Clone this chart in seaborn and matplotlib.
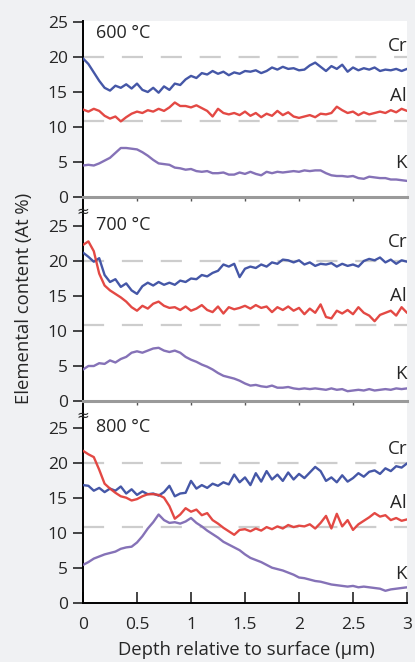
import numpy as np
import pandas as pd
import matplotlib
matplotlib.use("Agg")
import matplotlib.pyplot as plt
import seaborn as sns

# depth grid (µm), one reading every 0.05 µm
depth = [round(i * 0.05, 2) for i in range(61)]

cr_600 = [19.8, 19.0, 17.8, 16.6, 15.6, 15.2, 15.9, 15.6, 16.1, 15.5, 16.2, 15.3, 15.0, 15.6, 14.9, 15.8,
          15.3, 16.2, 16.0, 16.8, 17.3, 17.0, 17.7, 17.5, 18.0, 17.6, 17.9, 17.4, 17.8, 17.6, 18.0, 17.9,
          18.1, 17.7, 18.0, 18.5, 18.2, 18.6, 18.3, 18.4, 18.1, 18.2, 18.8, 19.2, 18.6, 18.0, 18.7, 18.3,
          18.9, 17.9, 18.5, 18.1, 18.4, 18.2, 18.5, 18.0, 18.2, 18.1, 18.3, 18.0, 18.3]
al_600 = [12.5, 12.2, 12.6, 12.3, 11.6, 11.2, 11.5, 10.8, 11.4, 11.9, 12.2, 12.0, 12.4, 12.2, 12.6, 12.3,
          12.8, 13.5, 13.0, 13.0, 12.8, 13.1, 12.7, 12.3, 11.5, 12.6, 12.0, 11.8, 12.0, 11.7, 12.2, 11.6,
          12.0, 11.4, 11.9, 11.6, 12.3, 11.7, 12.1, 11.5, 11.3, 11.5, 11.7, 11.4, 11.9, 11.8, 12.0, 12.9,
          12.4, 12.0, 12.2, 11.7, 12.1, 11.8, 12.0, 12.2, 12.0, 12.4, 12.1, 12.6, 12.3]
k_600 = [4.5, 4.6, 4.5, 4.8, 5.2, 5.6, 6.3, 7.0, 7.0, 6.9, 6.8, 6.4, 5.9, 5.3, 4.8, 4.7,
         4.6, 4.2, 4.1, 3.9, 4.0, 3.7, 3.6, 3.7, 3.4, 3.4, 3.5, 3.2, 3.2, 3.5, 3.3, 3.6,
         3.3, 3.1, 3.6, 3.4, 3.6, 3.5, 3.6, 3.7, 3.6, 3.8, 3.7, 3.8, 3.8, 3.4, 3.1, 3.0,
         3.0, 2.9, 3.0, 2.7, 2.6, 2.9, 2.8, 2.7, 2.7, 2.5, 2.5, 2.4, 2.3]

cr_700 = [21.2, 20.6, 19.9, 20.4, 18.0, 17.0, 17.4, 16.3, 16.8, 15.8, 15.3, 16.4, 16.9, 16.5, 17.0, 16.6,
          16.9, 16.6, 17.2, 17.0, 17.5, 17.4, 18.0, 17.8, 18.3, 18.6, 19.5, 19.2, 19.6, 17.7, 18.9, 19.2,
          19.0, 19.5, 19.2, 19.8, 19.6, 20.2, 20.1, 19.8, 20.1, 19.5, 19.8, 19.3, 19.6, 19.5, 19.7, 19.2,
          19.6, 19.3, 19.5, 19.2, 20.0, 20.3, 20.1, 20.5, 19.8, 20.2, 19.6, 20.1, 19.9]
al_700 = [22.3, 22.8, 21.4, 18.2, 16.5, 15.8, 15.3, 14.8, 14.2, 13.4, 12.9, 13.6, 13.2, 13.9, 14.2, 13.6,
          13.3, 13.4, 13.0, 13.5, 12.9, 13.2, 13.7, 13.0, 12.7, 13.5, 12.5, 13.4, 13.1, 13.3, 13.6, 13.2,
          13.7, 13.3, 13.5, 12.7, 13.4, 13.0, 13.5, 12.9, 13.3, 12.4, 13.2, 12.6, 13.8, 12.0, 11.8, 12.9,
          12.5, 13.0, 12.4, 13.4, 12.6, 12.2, 11.4, 12.3, 12.6, 12.9, 12.2, 13.4, 12.6]
k_700 = [4.5, 5.0, 5.0, 5.4, 5.3, 5.8, 5.5, 6.0, 6.3, 6.9, 7.1, 6.9, 7.2, 7.5, 7.6, 7.2,
         7.0, 7.2, 6.9, 6.3, 5.9, 5.6, 5.2, 4.9, 4.5, 4.0, 3.6, 3.4, 3.2, 2.9, 2.5, 2.2,
         2.3, 2.1, 2.0, 2.2, 1.9, 1.9, 2.0, 1.8, 1.7, 1.8, 1.7, 1.8, 1.7, 1.6, 1.8, 1.6,
         1.7, 1.4, 1.5, 1.6, 1.5, 1.7, 1.5, 1.6, 1.7, 1.6, 1.8, 1.7, 1.8]

cr_800 = [16.8, 16.7, 16.0, 16.4, 15.8, 16.3, 16.0, 16.6, 15.6, 16.2, 15.4, 15.9, 15.5, 15.6, 15.3, 15.8,
          16.7, 15.2, 15.6, 15.7, 17.4, 16.3, 16.8, 16.4, 17.0, 16.7, 17.2, 16.9, 18.3, 17.2, 17.9, 16.8,
          18.5, 17.3, 18.8, 17.6, 18.3, 17.4, 18.6, 17.6, 18.4, 17.8, 18.6, 19.4, 18.8, 17.4, 17.9, 17.2,
          18.2, 17.3, 17.8, 18.5, 18.0, 18.7, 18.9, 18.4, 19.2, 18.8, 19.5, 19.3, 19.9]
al_800 = [21.7, 21.2, 20.8, 19.0, 17.0, 16.3, 15.7, 15.2, 15.0, 14.6, 14.8, 15.2, 15.5, 15.5, 15.4, 15.0,
          13.8, 12.0, 12.6, 13.5, 13.0, 13.3, 12.5, 12.8, 11.8, 11.3, 10.7, 10.2, 9.7, 10.4, 10.5, 10.2,
          10.6, 10.3, 10.8, 10.5, 10.9, 10.6, 11.1, 10.8, 11.0, 10.9, 11.2, 10.6, 11.4, 12.4, 10.6, 12.7,
          10.9, 11.8, 10.4, 11.2, 11.7, 12.2, 12.8, 12.3, 12.5, 11.8, 12.1, 11.7, 11.9]
k_800 = [5.4, 5.8, 6.3, 6.6, 6.9, 7.1, 7.3, 7.7, 7.9, 8.0, 8.6, 9.5, 10.6, 11.5, 12.6, 11.8,
         11.4, 11.5, 11.3, 11.6, 12.1, 11.4, 10.9, 10.3, 9.8, 9.3, 8.7, 8.3, 7.9, 7.5, 6.9, 6.4,
         6.1, 5.8, 5.4, 5.0, 4.8, 4.6, 4.3, 4.0, 3.6, 3.5, 3.3, 3.1, 3.0, 2.8, 2.6, 2.5,
         2.4, 2.3, 2.4, 2.2, 2.3, 2.2, 2.1, 2.0, 1.7, 1.9, 2.0, 2.1, 2.2]

temps = ["600 °C", "700 °C", "800 °C"]
elements = ["Cr", "Al", "K"]
series = {
    "600 °C": [cr_600, al_600, k_600],
    "700 °C": [cr_700, al_700, k_700],
    "800 °C": [cr_800, al_800, k_800],
}
ref_levels = [20, 10.8]
x_ticks = [0, 0.5, 1, 1.5, 2, 2.5, 3]
x_ticklabels = ["0", "0.5", "1", "1.5", "2", "2.5", "3"]
y_ticks = [0, 5, 10, 15, 20, 25]

palette = {"Cr": "#3b4ea2", "Al": "#e23f3a", "K": "#7f6ab3"}
label_y = {"600 °C": [21.6, 14.4, 4.9], "700 °C": [22.7, 15.0, 3.8], "800 °C": [22.0, 14.2, 4.1]}

sns.set_style("ticks")
plt.rcParams["font.family"] = ["Open Sans", "DejaVu Sans"]

fig = plt.figure(figsize=(4.15, 6.62), dpi=100, facecolor="#f0f1f3")
W, H = 415, 662
# (top px, bottom px, px of y=0) for each panel
panels = [(21, 212, 197), (212, 414, 401), (414, 602.7, 602.7)]
scale = 7.0  # px per at%

for i, temp in enumerate(temps):
    top, bot, zero = panels[i]
    ax = fig.add_axes([83 / W, 1 - bot / H, 324 / W, (bot - top) / H])
    ax.set_facecolor("white")

    df = pd.concat([pd.DataFrame({"depth": depth, "content": vals, "element": el})
                    for el, vals in zip(elements, series[temp])])

    for lvl in ref_levels:
        ax.axhline(lvl, color="#cdcdcd", lw=1.6, dashes=(9.5, 8), zorder=1)

    sns.lineplot(data=df, x="depth", y="content", hue="element", palette=palette,
                 legend=False, ax=ax, lw=1.7, alpha=0.95, zorder=3)

    ax.set_xlim(0, 3)
    ax.set_ylim((zero - bot) / scale, (zero - top) / scale)
    ax.set_yticks(y_ticks)
    ax.set_xlabel("")
    ax.set_ylabel("")
    ax.tick_params(axis="y", direction="out", length=7, width=1.2, labelsize=12.5, pad=4)
    for s in ["top", "right"]:
        ax.spines[s].set_visible(False)
    ax.spines["left"].set_linewidth(1.4)
    ax.spines["left"].set_color("black")

    if i < 2:
        ax.spines["bottom"].set_position(("data", 0))
        ax.spines["bottom"].set_color("#9a9a9a")
        ax.spines["bottom"].set_linewidth(2.2)
        ax.set_xticks(x_ticks[1:-1])
        ax.set_xticklabels([])
        ax.tick_params(axis="x", direction="out", length=3, width=1, color="#555555")
    else:
        ax.spines["bottom"].set_linewidth(1.4)
        ax.spines["bottom"].set_color("black")
        ax.set_xticks(x_ticks)
        ax.set_xticklabels(x_ticklabels)
        ax.tick_params(axis="x", direction="in", length=8, width=1.2, labelsize=12.5, pad=10)

    ty = 23.4 if i == 0 else 25.1
    ax.text(0.12, ty, temp, fontsize=13, ha="left", va="center")
    for el, ly in zip(elements, label_y[temp]):
        ax.text(3.0, ly, el, fontsize=13.5, ha="right", va="center")

# axis break marks on the left spine
for py in [211.5, 415]:
    fig.text(82.5 / W, 1 - py / H, "≈", fontsize=11, ha="center", va="center",
             family="DejaVu Sans")

fig.text(24 / W, 1 - 298 / H, "Elemental content (At %)", rotation=90,
         fontsize=13.3, ha="center", va="center")
fig.text(246 / W, 1 - 650 / H, "Depth relative to surface (µm)",
         fontsize=13.3, ha="center", va="center")

fig.savefig("out.png", dpi=100, facecolor=fig.get_facecolor())
